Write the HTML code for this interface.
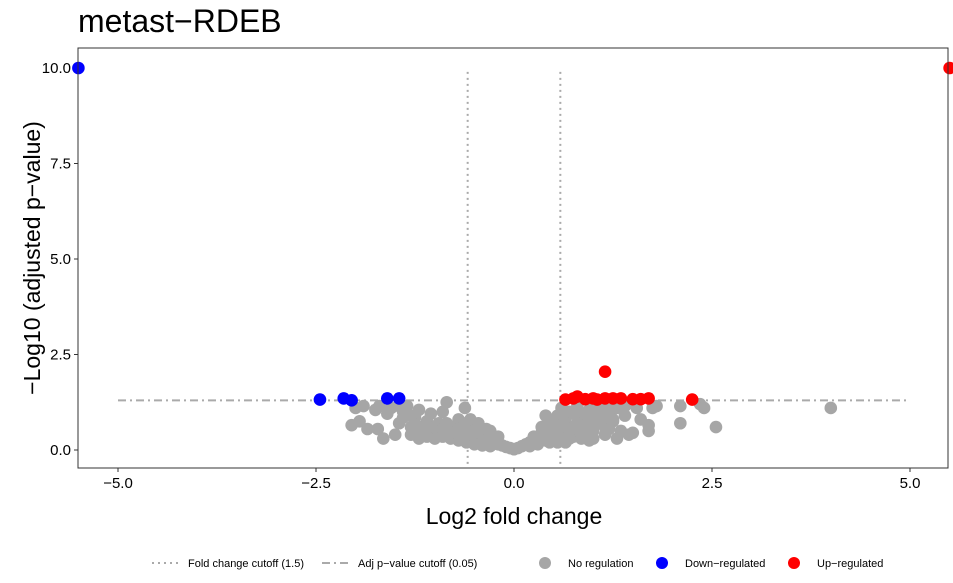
<!DOCTYPE html>
<html><head><meta charset="utf-8"><style>
body{margin:0;background:#fff;font-family:"Liberation Sans",sans-serif}
svg text{font-family:"Liberation Sans",sans-serif}
</style></head><body>
<svg id="chart" width="953" height="578">
<text x="78" y="32" font-size="32">metast−RDEB</text>
<g id="plot"></g>
<text x="514" y="524" font-size="23" text-anchor="middle">Log2 fold change</text>
<text transform="translate(40,258) rotate(-90)" font-size="23" text-anchor="middle">−Log10 (adjusted p−value)</text>
<g font-size="11">
<g><line x1="152" y1="563" x2="180" y2="563" stroke="#aaa" stroke-width="2" stroke-dasharray="2,4"/><text x="188" y="567">Fold change cutoff (1.5)</text></g>
<g><line x1="322" y1="563" x2="350" y2="563" stroke="#aaa" stroke-width="2" stroke-dasharray="8,4,2,4"/><text x="358" y="567">Adj p−value cutoff (0.05)</text></g>
<g><circle cx="545" cy="563" r="6" fill="#a6a6a6"/><text x="568" y="567">No regulation</text></g>
<g><circle cx="662" cy="563" r="6" fill="#0000ff"/><text x="685" y="567">Down−regulated</text></g>
<g><circle cx="794" cy="563" r="6" fill="#ff0000"/><text x="817" y="567">Up−regulated</text></g>
</g>
</svg>
<script>
const xTicks=[-5,-2.5,0,2.5,5];
const xTickLabels=["−5.0","−2.5","0.0","2.5","5.0"];
const yTicks=[0,2.5,5,7.5,10];
const yTickLabels=["0.0","2.5","5.0","7.5","10.0"];
const greyX=[-2.0,-2.05,-1.95,-1.85,-1.72,-1.65,-1.9,-1.75,-1.7,-1.6,-1.55,-1.5,-1.45,-1.4,-1.35,-1.3,-1.25,-1.2,-1.15,-1.1,-1.05,-1.0,-0.95,-0.9,-0.85,-0.8,-0.75,-0.7,-0.65,-0.62,-0.6,-0.55,-0.5,-0.45,-0.4,-0.35,-0.3,-0.25,-0.2,-0.15,-0.1,-0.05,0,-1.3,-1.0,-0.9,-0.8,-0.7,-0.6,-0.5,-0.4,-0.3,-1.2,-1.1,-0.95,-0.75,-0.55,-0.45,-0.3,
-1.4,-1.3,-1.2,-1.1,-1.0,-0.9,-0.8,-0.7,-0.6,-0.5,-0.4,-0.35,-0.25,-0.2,-1.45,-1.15,-0.85,-0.65,-0.35,
0.05,0.1,0.15,0.2,0.25,0.3,0.35,0.4,0.45,0.5,0.55,0.6,0.6,0.65,0.7,0.75,0.8,0.85,0.9,0.95,1.0,1.05,1.1,1.15,1.2,1.25,1.3,1.35,1.4,1.45,1.5,1.55,1.6,1.7,1.7,1.75,1.8,2.1,2.1,2.35,2.4,2.55,4.0,0.3,0.4,0.5,0.6,0.7,0.8,0.9,0.2,1.0,0.55,0.75,0.45,0.65,0.85,1.15,1.3,0.95,
0.35,0.45,0.55,0.65,0.75,0.85,0.95,1.05,1.15,1.25,0.5,0.6,0.7,0.8,0.9,1.0,1.1,1.2,1.4,0.25,0.4,0.7,1.0,1.2];
const greyY=[1.1,0.65,0.75,0.55,0.55,0.3,1.15,1.05,1.15,0.95,1.1,0.4,0.7,1.0,1.15,0.6,0.85,1.05,0.5,0.75,0.95,0.45,0.7,1.0,1.25,0.55,0.4,0.8,0.6,1.1,0.35,0.55,0.3,0.45,0.25,0.35,0.2,0.25,0.15,0.12,0.08,0.05,0.02,0.4,0.3,0.35,0.3,0.25,0.2,0.15,0.12,0.1,0.3,0.35,0.5,0.6,0.8,0.7,0.5,
0.85,0.9,0.6,0.6,0.6,0.55,0.45,0.55,0.45,0.5,0.4,0.25,0.3,0.35,1.15,0.45,0.7,0.35,0.55,
0.05,0.1,0.15,0.2,0.3,0.35,0.45,0.55,0.6,0.7,0.9,1.1,0.5,0.8,1.0,0.6,1.15,0.9,0.7,1.05,0.5,0.85,1.2,0.6,0.95,0.75,1.1,0.5,0.9,0.4,0.45,1.1,0.8,0.65,0.5,1.1,1.15,1.15,0.7,1.2,1.1,0.6,1.1,0.15,0.25,0.35,0.3,0.4,0.45,0.5,0.1,0.3,0.2,0.35,0.2,0.2,0.3,0.4,0.3,0.25,
0.6,0.7,0.75,0.9,0.95,0.6,0.75,0.7,0.85,0.8,0.45,0.65,0.55,0.7,0.95,1.1,1.0,1.05,1.15,0.35,0.9,0.3,0.75,0.55];
const downX=[-5.5,-2.45,-2.15,-2.05,-1.6,-1.45];
const downY=[10,1.32,1.35,1.3,1.35,1.35];
const upX=[5.5,1.15,0.65,0.75,0.8,0.9,1.0,1.05,1.15,1.25,1.35,1.5,1.6,1.7,2.25];
const upY=[10,2.05,1.32,1.35,1.4,1.33,1.35,1.32,1.35,1.35,1.35,1.33,1.33,1.35,1.32];
const fcCut=0.585, pCut=1.3;
const L=78,R=948,T=48,B=468;
const sx=v=>514+v*79.2, sy=v=>450-v*38.2;
const NS="http://www.w3.org/2000/svg";
const g=document.getElementById('plot');
function mk(t,a){const e=document.createElementNS(NS,t);for(const k in a)e.setAttribute(k,a[k]);g.appendChild(e);return e;}
xTicks.forEach((v,i)=>{
  const l=mk('line',{x1:sx(v),x2:sx(v),y1:B,y2:B+4,stroke:'#333'});
  
  
  const t=mk('text',{x:sx(v),y:B+20,'font-size':15,'text-anchor':'middle',fill:'#000'});t.textContent=xTickLabels[i];
  
  
});
yTicks.forEach((v,i)=>{
  const l=mk('line',{x1:L-4,x2:L,y1:sy(v),y2:sy(v),stroke:'#333'});
  
  
  const t=mk('text',{x:L-7,y:sy(v)+5,'font-size':15,'text-anchor':'end',fill:'#000'});t.textContent=yTickLabels[i];
  
  
});
[-fcCut,fcCut].forEach(v=>{
  const l=mk('line',{x1:sx(v),x2:sx(v),y1:sy(9.9),y2:B,stroke:'#aaa','stroke-width':2,'stroke-dasharray':'2,4'});
  
  
});
const hl=mk('line',{x1:sx(-5),x2:sx(5),y1:sy(pCut),y2:sy(pCut),stroke:'#aaa','stroke-width':2,'stroke-dasharray':'8,4,2,4'});


function pts(X,Y,c,n){X.forEach((v,i)=>{const p=mk('circle',{cx:sx(v),cy:sy(Y[i]),r:6.3,fill:c});
  
  });}
pts(greyX,greyY,'#a6a6a6','point-no-regulation');
pts(downX,downY,'#0000ff','point-down-regulated');
pts(upX,upY,'#ff0000','point-up-regulated');
const fr=mk('rect',{x:L,y:T,width:R-L,height:B-T,fill:'none',stroke:'#333','stroke-width':1});


</script>
</body></html>
